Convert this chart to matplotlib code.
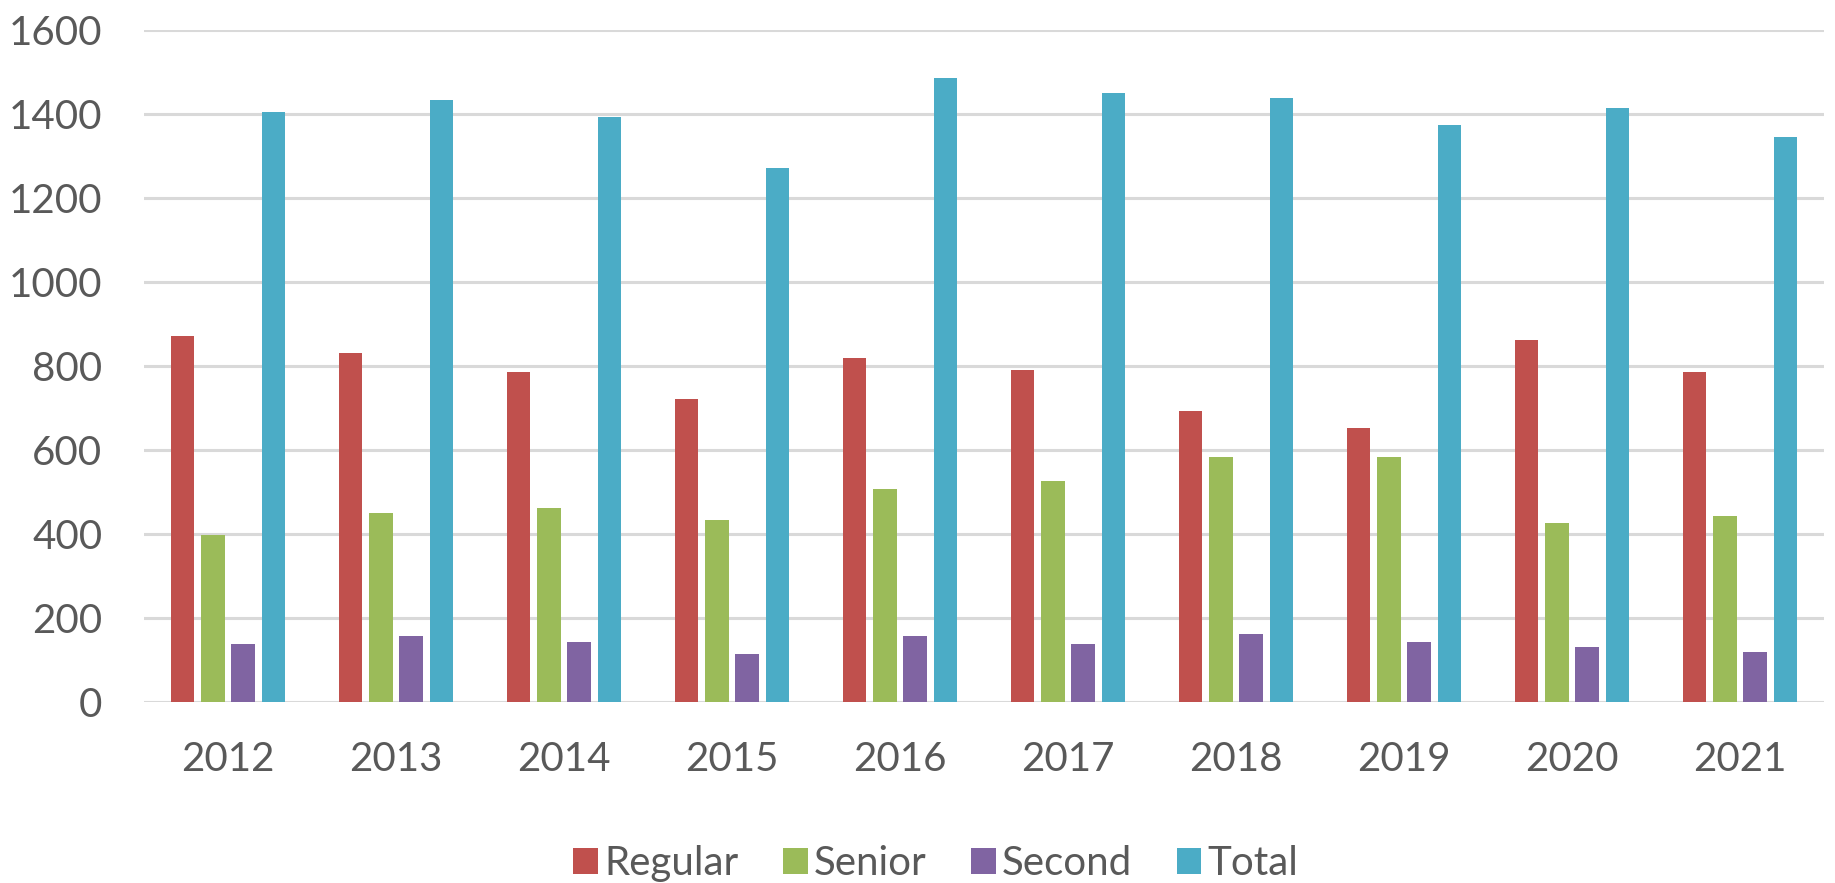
import matplotlib
matplotlib.use("Agg")
import matplotlib.pyplot as plt
import numpy as np

years = ["2012", "2013", "2014", "2015", "2016", "2017", "2018", "2019", "2020", "2021"]
regular = [872, 832, 786, 721, 820, 791, 692, 652, 861, 785]
senior = [398, 450, 462, 434, 508, 526, 583, 583, 426, 444]
second = [138, 156, 144, 115, 156, 138, 162, 144, 132, 120]
total = [1404, 1434, 1393, 1271, 1485, 1450, 1439, 1375, 1415, 1346]

series = [("Regular", regular, "#C0504D"),
          ("Senior", senior, "#9BBB59"),
          ("Second", second, "#8064A2"),
          ("Total", total, "#4BACC6")]

plt.rcParams['font.family'] = ['Lato', 'DejaVu Sans']
text_color = "#595959"

fig = plt.figure(figsize=(18.35, 8.83), dpi=100)
ax = fig.add_axes([0.0785, 0.205, 0.9155, 0.761])

x = np.arange(len(years))
pitch = 0.18
width = 0.14
for i, (name, vals, col) in enumerate(series):
    ax.bar(x + (i - 1.5) * pitch, vals, width=width, color=col, label=name, zorder=3)

ax.set_xlim(-0.5, len(years) - 0.5)
ax.set_ylim(0, 1600)
ax.set_yticks(range(0, 1601, 200))
ax.set_xticks(x)
ax.set_xticklabels(years)
ax.grid(axis='y', color="#D9D9D9", linewidth=2.2, zorder=0)
ax.set_axisbelow(True)
for s in ax.spines.values():
    s.set_visible(False)
ax.tick_params(axis='both', length=0, labelsize=29, colors=text_color)
ax.tick_params(axis='y', pad=30)
ax.tick_params(axis='x', pad=28)

leg = fig.legend(loc='center', bbox_to_anchor=(0.51, 0.022), ncol=4, frameon=False,
                 fontsize=29, handlelength=0.62, handleheight=0.62,
                 handletextpad=0.15, columnspacing=1.1)
for t in leg.get_texts():
    t.set_color(text_color)

fig.savefig("out.png", dpi=100)
